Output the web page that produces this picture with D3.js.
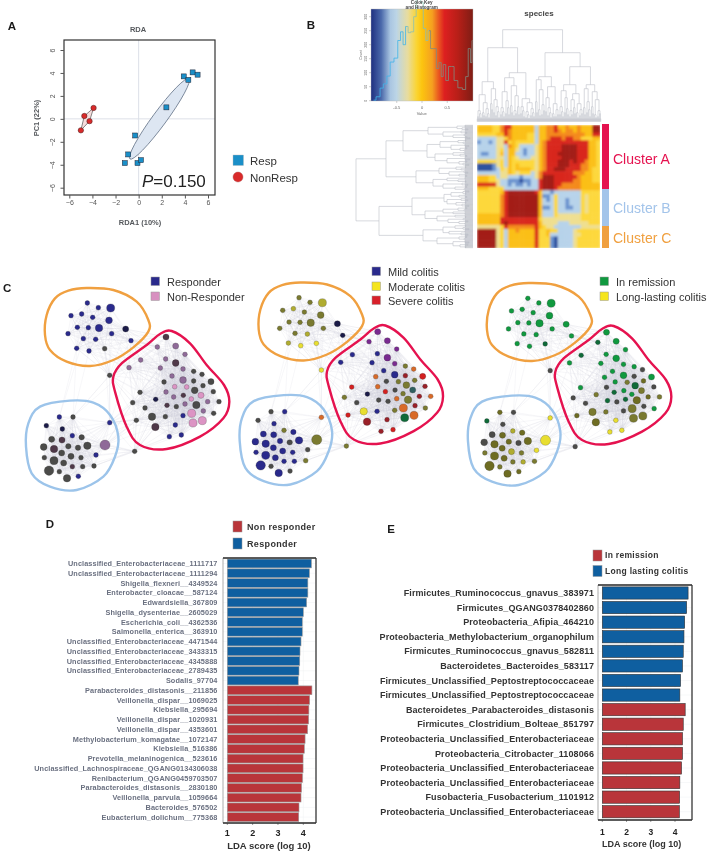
<!DOCTYPE html>
<html><head><meta charset="utf-8">
<script src="https://cdn.jsdelivr.net/npm/d3@7"></script>
<style>
html,body{margin:0;padding:0;background:#fff}
svg{display:block;filter:blur(0.35px)}
text{font-family:"Liberation Sans",Arial,sans-serif}
</style></head><body>
<svg id="c" width="709" height="855"></svg>
<script>
// ---------- Panel A data
const respX=[3.9,4.67,5.1,4.3,2.4,-0.3,-0.9,-1.2,-0.1,0.2];
const respY=[3.7,4.05,3.85,3.4,1.0,-1.45,-3.1,-3.85,-3.85,-3.6];
const nonX=[-3.9,-4.7,-4.25,-5.0];
const nonY=[0.95,0.25,-0.2,-1.0];
const ticksA=[-6,-4,-2,0,2,4,6];
// ---------- Panel B data
const histX=[-.96,-.86,-.8,-.73,-.66,-.6,-.51,-.45,-.4,-.35,-.3,-.25,-.2,-.13,-.1,-.05,0,.05,.1,.14,.2,.26,.31,.36,.4,.44,.5,.55,.61,.66,.76,.84,.89,.94,.98,1.0];
const histY=[2,14,45,60,88,138,152,215,246,200,265,243,246,300,365,365,350,258,215,250,186,186,115,136,86,129,72,122,122,72,46,40,86,186,136,215];
const keyTicks=[-.5,0,.5];
const countTicks=[0,50,100,150,200,250,300];
const heat=[
"66665578866666636677866766766699",
"66665578766666636677876776766699",
"55555668766665536677777777776688",
"33333445766665536678887887755566",
"23323448565555536788888888888665",
"33333443765333346788889999888665",
"33333453664323346788889999888665",
"32233463663323346788899999888665",
"33333443654333446788889999888665",
"55555453655555546788899989887665",
"11112453656555546788899988877665",
"11112354656666546788999888877655",
"33333344654555347888888887776655",
"66655344333233347999888888766655",
"66655433222122338999888887766655",
"88888433232232338999887777766666",
"66655553333333338999877777766666",
"55555568999999986332333333355555",
"55555578999999996223533333354555",
"55555578999999996323533233354555",
"55555578999999996333533233354555",
"55555578999999996223533223354555",
"55555578999999996333533333354555",
"66666678999999996333544444455555",
"66666688888888885444444444455555",
"66666689888888886444433344444555",
"44444458777777786544333333344444",
"99999453667666685565533334555555",
"99999453666666685563333334455555",
"99999453666666685552133334555555",
"99999453666666685552133334555555",
"99999453666666685552133334555555"];
const topTree=[92,
 [74,
  [40,
   [27,[11,[5,0,0],[8,0,[4,0,0]]],[19,[9,0,[6,0,0]],[13,[5,0,0],[8,0,[4,0,0]]]]],
   [33,[18,0,[12,0,0]],[22,[9,0,0],[15,[6,0,0],[10,0,[4,0,0]]]]]],
  [49,
   [44,[30,[14,[7,0,0],[10,0,[5,0,0]]],[21,[8,0,0],[14,0,[7,0,0]]]],[36,[16,0,[9,0,0]],[26,[11,[6,0,0],[8,0,0]],[15,0,[7,0,0]]]]],
   [23,[15,[8,0,0],[11,0,[5,0,0]]],[19,[10,[4,0,0],[7,0,[3,0,0]]],[13,[6,0,0],[9,0,[5,0,0]]]]]]],
 [69,
  [45,
   [42,[20,0,[9,0,0]],[32,[12,0,[6,0,0]],[17,[7,0,0],[11,0,0]]]],
   [35,[24,[10,0,0],[14,[6,0,0],[9,0,[4,0,0]]]],[18,[8,0,[5,0,0]],[12,[5,0,0],[7,0,0]]]]],
  [55,
   [37,
    [31,[15,[7,0,0],[10,0,[5,0,0]]],[24,[9,0,0],[13,0,[7,0,0]]]],
    [28,[22,[11,[5,0,0],[7,0,0]],[14,0,[8,0,0]]],[18,[9,0,[4,0,0]],[12,[6,0,0],[8,0,0]]]]],
   [37,[33,[14,0,[7,0,0]],[20,[9,0,0],[12,0,[5,0,0]]]],[30,[15,0,[8,0,0]],[22,[7,0,[4,0,0]],[11,[5,0,0],[8,0,0]]]]]]]];
const leftTree=[117,
 [87,
  [70,
   [45,[16,[8,0,0],[11,0,[5,0,0]]],[30,[12,0,[6,0,0]],[20,[9,0,0],[6,0,[3,0,0]]]]],
   [46,[33,[15,[7,0,0],[10,0,0]],[22,[8,0,[4,0,0]],[13,[6,0,0],[9,0,0]]]],[38,[20,[9,0,0],[13,0,[6,0,0]]],[26,[8,0,[3,0,0]],[14,[6,0,0],[10,0,[4,0,0]]]]]]],
  [57,
   [34,[17,[7,0,0],[12,0,0]],[24,[9,0,[5,0,0]],[14,0,[6,0,0]]]],
   [40,[26,[8,0,0],[15,0,[7,0,0]]],[30,[11,0,[5,0,0]],[18,[6,0,0],[9,0,0]]]]]],
 [94,
  [61,
   [29,[22,[10,[4,0,0],[7,0,0]],[14,0,[6,0,0]]],[26,[12,0,[5,0,0]],[17,[7,0,0],[11,0,[4,0,0]]]]],
   [48,[30,[15,[6,0,0],[9,0,0]],[20,0,[8,0,0]]],[36,[18,0,[7,0,0]],[25,[10,0,0],[14,[5,0,0],[8,0,0]]]]]],
  [50,
   [30,[18,[7,0,0],[10,0,[4,0,0]]],[24,[8,0,0],[12,0,[5,0,0]]]],
   [36,[14,[6,0,0],[9,0,0]],[20,[8,0,[4,0,0]],[13,[5,0,0],[7,0,0]]]]]]];
const clusterNames=["Cluster A","Cluster B","Cluster C"];
const clusterSizes=[65,37,22];
// ---------- Panel C data (layout units of the first network)
const nodeX=[262,295,332,213,245,278,327,232,265,297,377,204,335,250,287,393,230,267,314,329,178,219,139,187,329,217,155,186,245,131,162,205,234,262,315,185,213,288,133,162,243,191,147,217,248,282,178,201,235,404,498,472,527,555,422,497,527,387,481,549,606,516,581,549,581,633,492,524,560,584,609,640,420,498,521,550,603,574,623,657,467,398,555,529,589,501,435,610,641,575,496,549,456,409,579,607,526,466,508,544];
const nodeY=[129,143,144,167,162,172,181,202,203,204,207,221,221,236,238,242,265,273,266,346,471,471,497,507,488,527,538,540,532,561,567,559,563,557,555,579,589,585,593,602,593,609,632,620,620,618,635,655,649,574,231,261,258,283,300,297,309,323,324,327,343,348,334,360,363,365,366,380,381,391,377,395,397,396,411,406,406,417,425,425,418,428,432,440,435,436,444,453,460,460,470,467,470,481,489,482,495,501,530,525];
const nodeR=[6,6,11,6,6,6,9,6,6,10,8,6,6,6,6,6,6,6,6,6,6,6,6,6,6,6,8,8,7,9,10,7,7,10,14,8,8,6,6,11,6,8,13,6,6,6,6,10,6,6,8,6,8,6,6,6,9,6,6,6,6,6,6,9,6,8,6,6,6,9,6,6,6,6,6,6,8,6,6,6,6,6,6,6,10,6,6,6,6,11,6,6,10,6,11,11,6,10,6,6];
const colorsA="NNNNNNNNNNKNNNNNNNGGNGKKNNGDGGDGGGMGGNGGGGGDGGGGNGDMMMMMDMMMGMGMGGGPPGGGGMMDPPMGKGMGGDGMGPGNGGPPNDNN";
const colorsB="OOLOLOOOOOKOOOLKLYYYGNGNAONNNNNNGNONNGNNNNNNNOGNGOVVVVNNVNNVANONDRAGOOODRARGTODAKOAGOGGDOANOYRFADDDRDD".slice(0,100);
const colorsC="EEEEEEEEEEEEEEEEEEFGBGFGYLGBBGBBGBYBLYOBOBBOLOOBBGEFEEFEEEEEGEEEGEEEOFBGEGFEOEBOOGFGBFGGEOOGOBOOYBYY";
const longEdges=[[20,17],[20,18],[20,19],[20,25],[20,58],[20,51],[20,22],[17,22],[18,22],[14,21],[19,25],[17,21],[16,51],[16,52],[11,51],[11,55],[13,52],[16,58],[20,82],[22,58],[25,82],[25,94],[35,50],[35,94],[46,50],[50,94],[50,93],[35,82],[34,50],[50,98],[46,99],[25,58]];
const legendC=[
 {x:151,ys:[277,292],tx:167,names:["Responder","Non-Responder"],cols:["#2a2a8c","#d890c0"]},
 {x:372,ys:[267,282,296],tx:388,names:["Mild colitis","Moderate colitis","Severe colitis"],cols:["#2a2a8c","#f5e51e","#d8202a"]},
 {x:600,ys:[277,292],tx:616,names:["In remission","Long-lasting colitis"],cols:["#10993f","#f5e51e"]}];
// ---------- Panels D / E data
const namesD=["Unclassified_Enterobacteriaceae_1111717","Unclassified_Enterobacteriaceae_1111294","Shigella_flexneri__4349524","Enterobacter_cloacae__587124","Edwardsiella_367809","Shigella_dysenteriae__2605029","Escherichia_coli__4362536","Salmonella_enterica__363910","Unclassified_Enterobacteriaceae_4471544","Unclassified_Enterobacteriaceae_3433315","Unclassified_Enterobacteriaceae_4345888","Unclassified_Enterobacteriaceae_2789435","Sodalis_97704","Parabacteroides_distasonis__211856","Veillonella_dispar__1069025","Klebsiella_295694","Veillonella_dispar__1020931","Veillonella_dispar__4353601","Methylobacterium_komagatae__1072147","Klebsiella_516386","Prevotella_melaninogenica__523616","Unclassified_Lachnospiraceae_QGANG0134306038","Renibacterium_QGANG0459703507","Parabacteroides_distasonis__2830180","Veillonella_parvula__1059664","Bacteroides_576502","Eubacterium_dolichum__775368"];
const valuesD=[4.32,4.24,4.18,4.18,4.13,4.0,3.96,3.96,3.91,3.87,3.86,3.83,3.8,4.34,4.25,4.22,4.21,4.17,4.07,4.04,3.99,3.99,3.97,3.93,3.91,3.83,3.82];
const blueCountD=13;
const namesE=["Firmicutes_Ruminococcus_gnavus_383971","Firmicutes_QGANG0378402860","Proteobacteria_Afipia_464210","Proteobacteria_Methylobacterium_organophilum","Firmicutes_Ruminococcus_gnavus_582811","Bacteroidetes_Bacteroides_583117","Firmicutes_Unclassified_Peptostreptococcaceae","Firmicutes_Unclassified_Peptostreptococcaceae","Bacteroidetes_Parabacteroides_distasonis","Firmicutes_Clostridium_Bolteae_851797","Proteobacteria_Unclassified_Enterobacteriaceae","Proteobacteria_Citrobacter_1108066","Proteobacteria_Unclassified_Enterobacteriaceae","Proteobacteria_Unclassified_Enterobacteriaceae","Fusobacteria_Fusobacterium_1101912","Proteobacteria_Unclassified_Enterobacteriaceae"];
const valuesE=[4.54,4.48,4.40,4.37,4.34,4.31,4.23,4.2,4.42,4.34,4.31,4.31,4.27,4.2,4.19,4.18];
const blueCountE=8;
const ldaTicks=[1,2,3,4];

const svg=d3.select("#c");
function T(g,x,y,s,o={}){return g.append("text").attr("x",x).attr("y",y).attr("dy",".35em").text(s)
 .attr("font-size",o.size||8).attr("font-weight",o.bold?"bold":null).attr("fill",o.fill||"#333")
 .attr("text-anchor",o.anchor||"start").attr("font-style",o.italic?"italic":null)
 .attr("letter-spacing",o.ls||null);}
const pl=[["A",12,26],["B",311,25],["C",3,288],["D",50,524],["E",391,529]];
pl.forEach(p=>T(svg,p[1],p[2],p[0],{size:11.5,bold:true,fill:"#1a1a1a",anchor:p[0]==="C"?"start":"middle"}));

// ---------- Panel A
(function(){
 const g=svg.append("g");
 const x=d3.scaleLinear().domain([-6,6]).range([69.3,208]);
 const y=d3.scaleLinear().domain([-6,6]).range([187.7,50]);
 g.append("line").attr("x1",64).attr("x2",215).attr("y1",y(0)).attr("y2",y(0)).attr("stroke","#dde0e8").attr("stroke-width",1);
 g.append("line").attr("y1",40).attr("y2",195).attr("x1",x(0)).attr("x2",x(0)).attr("stroke","#dde0e8").attr("stroke-width",1);
 const ang=Math.atan2(y(3.5)-y(-3.5),x(4.35)-x(-0.75))*180/Math.PI;
 const len=Math.hypot(y(3.5)-y(-3.5),x(4.35)-x(-0.75))/2;
 g.append("ellipse").attr("cx",x(1.8)).attr("cy",y(0)).attr("rx",len).attr("ry",7)
  .attr("transform",`rotate(${ang} ${x(1.8)} ${y(0)})`).attr("fill","#dde6f2").attr("stroke","#5a6a80").attr("stroke-width",.7);
 const hull=[0,1,3,2].map(i=>[x(nonX[i]),y(nonY[i])]);
 g.append("path").attr("d",d3.line().curve(d3.curveLinearClosed)(hull)).attr("fill","#f6dcdc").attr("stroke","#555").attr("stroke-width",.7);
 g.append("rect").attr("x",64).attr("y",40).attr("width",151).attr("height",155).attr("fill","none").attr("stroke","#333").attr("stroke-width",1.2);
 g.selectAll("rect.r").data(respX).join("rect").attr("class","r").attr("x",d=>x(d)-2.5).attr("y",(d,i)=>y(respY[i])-2.5)
  .attr("width",5).attr("height",5).attr("fill","#1a8fc8").attr("stroke","#223").attr("stroke-width",.5);
 g.selectAll("circle").data(nonX).join("circle").attr("cx",d=>x(d)).attr("cy",(d,i)=>y(nonY[i])).attr("r",2.7)
  .attr("fill","#d92a2a").attr("stroke","#422").attr("stroke-width",.5);
 const ax=g.append("g").attr("transform","translate(0,195)").call(d3.axisBottom(x).tickValues(ticksA).tickSize(3.5).tickPadding(2).tickFormat(d=>String(d).replace("-","\u2212")));
 ax.select(".domain").remove();ax.selectAll("line").attr("stroke","#555");
 ax.selectAll("text").attr("font-size",7).attr("fill","#555").attr("font-family","Liberation Sans");
 const ay=g.append("g").attr("transform","translate(64,0)").call(d3.axisLeft(y).tickValues(ticksA).tickSize(3.5).tickPadding(2).tickFormat(d=>String(d).replace("-","\u2212")));
 ay.select(".domain").remove();ay.selectAll("line").attr("stroke","#555");
 ay.selectAll("text").attr("font-size",7).attr("fill","#555").attr("font-family","Liberation Sans").attr("text-anchor","middle")
  .attr("x",-11.5).attr("y",0).attr("dy",".35em").attr("transform","rotate(-90 -11.5 0)");
 T(g,138,29,"RDA",{size:7.5,bold:true,fill:"#55585c",anchor:"middle"});
 T(g,140,222,"RDA1 (10%)",{size:7.5,bold:true,fill:"#55585c",anchor:"middle"});
 T(g,0,0,"PC1 (22%)",{size:7.5,bold:true,fill:"#55585c",anchor:"middle"}).attr("transform","translate(36,118) rotate(-90)");
 g.append("text").attr("x",142).attr("y",187).attr("font-size",17).attr("fill","#222").html('<tspan font-style="italic">P</tspan>=0.150');
 g.append("rect").attr("x",233).attr("y",155).attr("width",10.5).attr("height",10.5).attr("fill","#1a8fc8").attr("stroke","#bbb").attr("stroke-width",.4);
 g.append("circle").attr("cx",238).attr("cy",177).attr("r",5).attr("fill","#d92a2a").attr("stroke","#a55").attr("stroke-width",.4);
 T(g,250,161,"Resp",{size:11.5,fill:"#333"});
 T(g,250,178,"NonResp",{size:11.5,fill:"#333"});
})();

// ---------- Panel B
(function(){
 const g=svg.append("g");
 const defs=svg.append("defs");
 const lg=defs.append("linearGradient").attr("id","key");
 [[0,"#1e2f80"],[.1,"#4a68aa"],[.19,"#aac6e2"],[.25,"#bcd5e6"],[.36,"#e8dc9e"],[.45,"#fbd430"],[.5,"#fcc40f"],[.6,"#f5a020"],[.66,"#ea5a20"],[.72,"#dd2020"],[.85,"#b81f18"],[1,"#7f1d15"]]
  .forEach(s=>lg.append("stop").attr("offset",s[0]).attr("stop-color",s[1]));
 defs.append("filter").attr("id","soft").attr("x","-5%").attr("y","-5%").attr("width","110%").attr("height","110%").append("feGaussianBlur").attr("stdDeviation",1.1);
 const kx=d3.scaleLinear().domain([-1,1]).range([371.5,472.5]);
 const ky=d3.scaleLinear().domain([0,300]).range([100.7,16.7]);
 g.append("rect").attr("x",371).attr("y",9).attr("width",102).attr("height",92).attr("fill","url(#key)").attr("stroke","#bbb").attr("stroke-width",.4);
 const pts=histX.map((v,i)=>[kx(v),ky(histY[i])]);
 const line=d3.line().curve(d3.curveStep);
 g.append("path").attr("d",line(pts.slice(0,11))).attr("fill","none").attr("stroke","#3fb4ea").attr("stroke-width",.8);
 g.append("path").attr("d",line(pts.slice(10,20))).attr("fill","none").attr("stroke","#8cc0b0").attr("stroke-width",.8);
 g.append("path").attr("d",line(pts.slice(19))).attr("fill","none").attr("stroke","#808a80").attr("stroke-width",.8);
 keyTicks.forEach(t=>{g.append("line").attr("x1",kx(t)).attr("x2",kx(t)).attr("y1",101).attr("y2",103).attr("stroke","#888").attr("stroke-width",.4);
  T(g,kx(t),108,String(t),{size:4,fill:"#666",anchor:"middle"});});
 countTicks.forEach(t=>{g.append("line").attr("x1",369).attr("x2",371).attr("y1",ky(t)).attr("y2",ky(t)).attr("stroke","#888").attr("stroke-width",.4);
  T(g,0,0,String(t),{size:3.6,fill:"#666",anchor:"middle"}).attr("transform",`translate(366,${ky(t)}) rotate(-90)`);});
 T(g,0,0,"Count",{size:3.6,fill:"#666",anchor:"middle"}).attr("transform","translate(361,55) rotate(-90)");
 T(g,421.7,114,"Value",{size:4,fill:"#666",anchor:"middle"});
 T(g,421.7,2,"Color Key",{size:4.6,bold:true,fill:"#444",anchor:"middle"});
 T(g,421.7,7,"and Histogram",{size:4.6,bold:true,fill:"#444",anchor:"middle"});
 T(g,539,13,"species",{size:8,bold:true,fill:"#444",anchor:"middle"});
 // dendrograms: every tip of the tree carries a short fork, which gives the dense grey base
 function dendro(tree,along,depth,horizontal,fork){
  const root=d3.hierarchy(tree,d=>Array.isArray(d)?d.slice(1):(d===0?[1,1]:null));
  const lv=root.leaves();
  const s=d3.scaleBand().domain(d3.range(lv.length)).range(along);
  lv.forEach((n,i)=>{n.pos=s(i)+s.bandwidth()/2;n.h=0;});
  root.eachAfter(n=>{if(n.children){n.pos=d3.mean(n.children,c=>c.pos);n.h=Array.isArray(n.data)?n.data[0]:fork;}});
  const dg=g.append("g").attr("fill","none").attr("stroke","#bcc0c8").attr("stroke-width",.6);
  root.descendants().filter(n=>n.children).forEach(n=>{
   const [a,b]=n.children;
   const P=(p,h)=>horizontal?[p,depth(h)]:[depth(h),p];
   dg.append("path").attr("d",d3.line()([P(a.pos,a.h),P(a.pos,n.h),P(b.pos,n.h),P(b.pos,b.h)]));
  });
 }
 dendro(topTree,[477,601],h=>121.7-h,true,3);
 dendro(leftTree,[125,248],h=>473-h,false,8);
 // heat map
 const colr=d3.scaleLinear().domain([1,2,3,4,5,6,7,8,9]).range(["#2a4f9e","#6a93cf","#b7d3ea","#efdf90","#fdd83a","#fbbf18","#f48a1c","#d9281e","#a31c18"]);
 const X=d3.scaleBand().domain(d3.range(32)).range([477,600]);
 const Y=d3.scaleBand().domain(d3.range(32)).range([125,248]);
 const clip=defs.append("clipPath").attr("id","hc");clip.append("rect").attr("x",477).attr("y",125).attr("width",123).attr("height",123);
 const hg=g.append("g").attr("clip-path","url(#hc)").append("g").attr("filter","url(#soft)");
 heat.forEach((row,r)=>row.split("").forEach((c,k)=>hg.append("rect").attr("x",X(k)).attr("y",Y(r)).attr("width",X.bandwidth()+.5).attr("height",Y.bandwidth()+.5).attr("fill",colr(+c))));
 const bc=["#e5124f","#a3c4ea","#f0a040"];
 const by=d3.scaleLinear().domain([0,124]).range([124,248]);
 let acc=0;
 const lab=[164,213,243];
 clusterSizes.forEach((n,i)=>{g.append("rect").attr("x",602).attr("y",by(acc)).attr("width",7).attr("height",by(acc+n)-by(acc)).attr("fill",bc[i]);
  acc+=n;
  g.append("text").attr("x",613).attr("y",lab[i]).attr("font-size",14).attr("fill",bc[i]).text(clusterNames[i]);});
})();

// ---------- Panel C
(function(){
 const g=svg.append("g");
 const px=d3.scaleLinear().domain([0,3]).range([0,1]);
 const py=d3.scaleLinear().domain([0,3]).range([260,261]);
 const pal={N:"#2a2a8c",K:"#1b1b48",G:"#4b4b49",D:"#4f3848",M:"#8f6a98",P:"#dc94c4",O:"#7a7a30",L:"#b0ac30",Y:"#e8de30",V:"#7a2a90",R:"#d42020",A:"#d86a28",T:"#2f5f5f",E:"#10993f",F:"#0f6a38",B:"#6e6c22"};
 pal.D2="#9a2028";
 const blobs=[
  {c:"#f0a040",p:[[260,84],[340,90],[410,125],[445,180],[445,215],[400,262],[340,300],[270,318],[200,305],[150,270],[135,225],[140,165],[165,115],[205,92]]},
  {c:"#9cc4ea",p:[[210,422],[280,428],[330,465],[355,530],[345,590],[310,650],[230,690],[150,680],[95,640],[78,560],[85,490],[120,440]]},
  {c:"#e5124f",p:[[515,213],[570,250],[620,315],[672,375],[688,425],[670,475],[600,530],[500,567],[420,555],[380,500],[345,395],[340,350],[365,310],[440,255],[480,222]]}];
 const panels=[{dx:0,dy:0,bx:0,by:0,c:colorsA},{dx:211.7,dy:-5.3,bx:213.7,by:-5.5,c:colorsB},{dx:440.5,dy:-4.7,bx:442,by:-5,c:colorsC}];
 const edges=[];
 for(let i=0;i<nodeX.length;i++)for(let j=i+1;j<nodeX.length;j++){
  if(Math.hypot(nodeX[i]-nodeX[j],nodeY[i]-nodeY[j])<170)edges.push([i,j]);}
 longEdges.forEach(e=>edges.push([e[0]-1,e[1]-1]));
 panels.forEach((P,pi)=>{
  const pg=g.append("g").attr("transform",`translate(${P.dx},${P.dy})`);
  pg.selectAll("line").data(edges).join("line")
   .attr("x1",e=>px(nodeX[e[0]])).attr("y1",e=>py(nodeY[e[0]])).attr("x2",e=>px(nodeX[e[1]])).attr("y2",e=>py(nodeY[e[1]]))
   .attr("stroke","#c6c6d6").attr("stroke-width",.5).attr("stroke-opacity",.3);
  pg.selectAll("circle").data(nodeX).join("circle")
   .attr("cx",d=>px(d)).attr("cy",(d,i)=>py(nodeY[i])).attr("r",(d,i)=>nodeR[i]/3+.4)
   .attr("fill",(d,i)=>{const k=P.c[i]; if(pi===1&&k==="D")return pal.D2; return pal[k]||"#4b4b49";})
   .attr("stroke","#2a2a2a").attr("stroke-opacity",.6).attr("stroke-width",.4);
  const bg=g.append("g").attr("transform",`translate(${P.bx},${P.by})`);
  blobs.forEach(b=>bg.append("path").attr("d",d3.line().x(d=>px(d[0])).y(d=>py(d[1])).curve(d3.curveCatmullRomClosed.alpha(0))(b.p)).attr("fill","none").attr("stroke",b.c).attr("stroke-width",2.4));
 });
 legendC.forEach(L=>L.names.forEach((n,i)=>{
  g.append("rect").attr("x",L.x).attr("y",L.ys[i]).attr("width",8.5).attr("height",8.5).attr("fill",L.cols[i]).attr("stroke","#999").attr("stroke-width",.5);
  T(g,L.tx,L.ys[i]+5,n,{size:11,fill:"#333"});
 }));
})();

// ---------- Panels D / E
function ldaPanel(o){
 const g=svg.append("g");
 const x=d3.scaleLinear().domain([1,4]).range(o.xr);
 const y=d3.scaleBand().domain(d3.range(o.names.length)).range(o.yr).paddingInner(o.pad).paddingOuter(o.pad/2);
 ldaTicks.forEach(t=>g.append("line").attr("x1",x(t)).attr("x2",x(t)).attr("y1",o.box[2]).attr("y2",o.box[3]).attr("stroke","#eef0f2").attr("stroke-width",.5));
 y.domain().forEach(i=>g.append("line").attr("x1",o.box[0]).attr("x2",o.box[1]).attr("y1",y(i)+y.bandwidth()/2).attr("y2",y(i)+y.bandwidth()/2).attr("stroke","#eef0f2").attr("stroke-width",.5));
 g.selectAll("rect.b").data(o.values).join("rect").attr("class","b").attr("x",x(1)).attr("y",(d,i)=>y(i)).attr("width",d=>x(d)-x(1)).attr("height",y.bandwidth())
  .attr("fill",(d,i)=>i<o.blue?"#0f5fa0":"#b9353a").attr("stroke",o.bs).attr("stroke-width",.6);
 g.selectAll("text.n").data(o.names).join("text").attr("class","n").attr("x",o.lx).attr("y",(d,i)=>y(i)+y.bandwidth()/2).attr("dy",".35em").attr("text-anchor","end")
  .attr("font-size",o.ls).attr("font-weight","bold").attr("fill",o.lc).attr("letter-spacing",o.lsp).text(d=>d);
 g.append("path").attr("d",`M${o.box[0]},${o.box[3]}V${o.box[2]}H${o.box[1]}V${o.box[3]}H${o.box[0]}`).attr("fill","none").attr("stroke","#555").attr("stroke-width",.5);
 g.append("line").attr("x1",o.box[0]).attr("x2",o.box[1]).attr("y1",o.box[2]).attr("y2",o.box[2]).attr("stroke","#333").attr("stroke-width",1.3);
 g.append("line").attr("x1",o.box[0]).attr("x2",o.box[1]).attr("y1",o.box[3]).attr("y2",o.box[3]).attr("stroke","#333").attr("stroke-width",1.3);
 g.append("line").attr("x1",o.box[1]).attr("x2",o.box[1]).attr("y1",o.box[2]).attr("y2",o.box[3]).attr("stroke","#333").attr("stroke-width",1.1);
 ldaTicks.forEach(t=>{g.append("line").attr("x1",x(t)).attr("x2",x(t)).attr("y1",o.box[3]).attr("y2",o.box[3]+2).attr("stroke","#333").attr("stroke-width",.5);
  T(g,x(t),o.ty,String(t),{size:o.ts,bold:true,fill:"#222",anchor:"middle"});});
 T(g,o.tcx,o.tcy,"LDA score (log 10)",{size:o.ts2,bold:true,fill:"#333",anchor:"middle"});
 o.leg.forEach((n,i)=>{g.append("rect").attr("x",o.lgx).attr("y",o.lgy[i]).attr("width",o.lgw).attr("height",o.lgh).attr("fill",i===o.legBlue?"#0f5fa0":"#b9353a").attr("stroke","#999").attr("stroke-width",.5);
  T(g,o.lgt,o.lgy[i]+o.lgh/2,n,{size:o.lgs,bold:true,fill:"#333",ls:o.lgsp});});
}
ldaPanel({names:namesD,values:valuesD,blue:blueCountD,xr:[227.3,303.3],yr:[558.6,822],pad:.1,box:[223,316,558,823],bs:"#999",lx:217.5,ls:7.3,lc:"#6a7080",lsp:.1,
 ty:833,ts:9,tcx:269,tcy:846,ts2:9.5,leg:["Non responder","Responder"],legBlue:1,lgx:233,lgy:[521,538],lgw:9,lgh:11,lgt:247,lgs:9,lgsp:.35});
ldaPanel({names:namesE,values:valuesE,blue:blueCountE,xr:[602.3,675],yr:[585.7,819],pad:.16,box:[598,692,585,820],bs:"#333",lx:594,ls:9,lc:"#333",lsp:.1,
 ty:832,ts:8.5,tcx:641.7,tcy:844,ts2:9,leg:["In remission","Long lasting colitis"],legBlue:1,lgx:593,lgy:[550,565.5],lgw:9,lgh:11,lgt:605,lgs:8.5,lgsp:.3});
</script>
</body></html>
